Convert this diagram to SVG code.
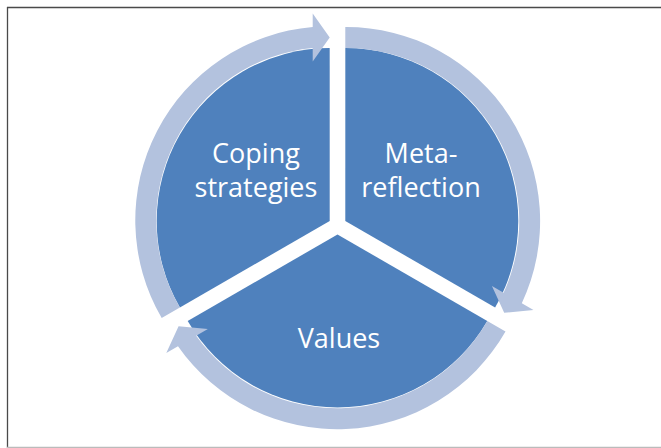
<svg xmlns="http://www.w3.org/2000/svg" width="661" height="448" viewBox="0 0 661 448">
  <style>
    .wedge { fill: #4F81BD; }
    .arrow { fill: #B3C2DE; }
    .label { font-family: "Open Sans", "Liberation Sans", sans-serif; font-size: 27px; fill: #FFFFFF; text-anchor: middle; }
  </style>
  <rect x="0" y="0" width="661" height="448" fill="#FFFFFF"/>
  <g id="frame">
    <line x1="7" y1="7.5" x2="661" y2="7.5" stroke="#4a4a4a" stroke-width="1.3"/>
    <line x1="7.5" y1="7" x2="7.5" y2="448" stroke="#4a4a4a" stroke-width="1.3"/>
    <line x1="7" y1="447.5" x2="661" y2="447.5" stroke="#bbbbbb" stroke-width="1.3"/>
  </g>
  <g id="node-meta-reflection">
    <path class="wedge" d="M345.294 221 L345.294 48 A173 173 0 0 1 495.11 307.5 Z"/>
    <text class="label" x="421" y="163">Meta-</text>
    <text class="label" x="421" y="197">reflection</text>
  </g>
  <g id="node-values">
    <path class="wedge" d="M337.5 234.5 L487.32 321 A173 173 0 0 1 187.68 321 Z"/>
    <text class="label" x="339" y="348">Values</text>
  </g>
  <g id="node-coping">
    <path class="wedge" d="M329.706 221 L179.88 307.5 A173 173 0 0 1 329.706 48 Z"/>
    <text class="label" x="256" y="163">Coping</text>
    <text class="label" x="256" y="197">strategies</text>
  </g>
  <g id="connectors">
    <path class="arrow" d="M345.294 27 A194 194 0 0 1 521.80 303.28 L533.49 310.03 L504.21 312.75 L491.93 286.03 L503.62 292.78 A173 173 0 0 0 345.294 48 Z"/>
    <path class="arrow" d="M505.51 331.5 A194 194 0 0 1 177.99 346.22 L166.30 352.97 L178.58 326.25 L207.86 328.97 L196.17 335.72 A173 173 0 0 0 487.32 321 Z"/>
    <path class="arrow" d="M161.69 318 A194 194 0 0 1 312.71 27 L312.71 13.5 L329.71 37.5 L312.71 61.5 L312.71 48 A173 173 0 0 0 179.88 307.5 Z"/>
  </g>
</svg>
